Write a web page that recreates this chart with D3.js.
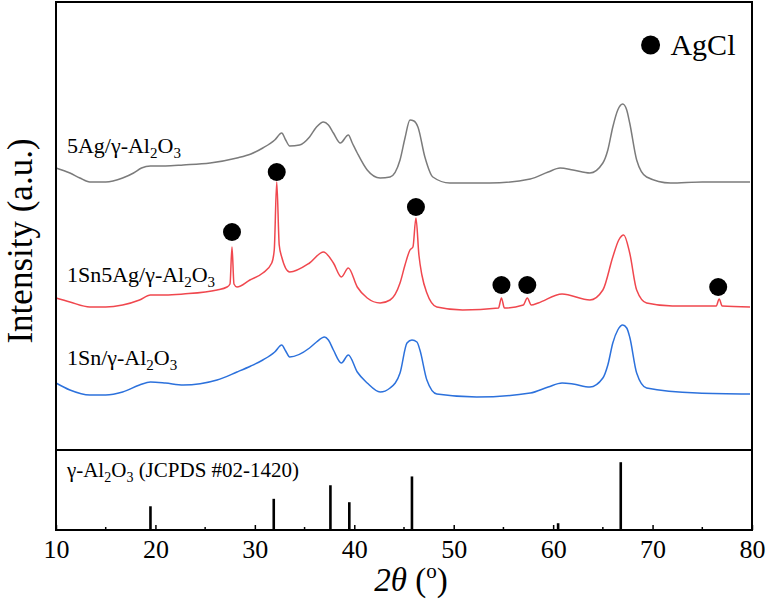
<!DOCTYPE html>
<html>
<head>
<meta charset="utf-8">
<script src="https://cdn.jsdelivr.net/npm/d3@7"></script>
<style>
    body { margin: 0; background: white; }
    text { font-family: "Liberation Serif", "Times New Roman", serif; fill: black; }
</style>
</head>
<body>
<div id="chart"></div>
<script>
// 2theta / intensity (a.u., stacked as drawn)
const ag_theta = [10.0, 11.4, 12.4, 13.4, 15.0, 16.7, 17.8, 18.6, 19.5, 21.0, 22.8, 25.5, 28.2, 29.6, 30.8, 32.0, 32.7, 33.1, 33.5, 34.5, 35.5, 36.2, 36.9, 37.4, 37.9, 38.6, 39.4, 39.8, 40.3, 41.3, 42.6, 43.6, 44.6, 45.1, 45.6, 46.0, 46.4, 47.1, 47.9, 49.6, 53.6, 57.7, 59.5, 60.7, 62.0, 63.7, 65.0, 65.5, 66.0, 66.5, 67.0, 67.4, 67.7, 68.4, 69.4, 71.8, 75.0, 79.8];
const ag_int = [282, 277, 272, 268, 268, 272, 277, 282, 284, 284, 285, 287, 292, 296, 302, 310, 317, 310, 304, 305, 313, 323, 328, 325, 317, 307, 315, 307, 297, 280, 272, 273, 290, 312, 330, 329, 323, 293, 273, 267, 267, 271, 278, 282, 280, 277, 287, 300, 323, 340, 346, 340, 327, 290, 273, 267, 268, 268];

const snag_theta = [10.0, 11.4, 13.4, 15.0, 16.7, 18.4, 19.5, 21.0, 22.8, 26.2, 27.2, 27.5, 27.7, 27.9, 28.2, 29.5, 30.8, 31.7, 31.95, 32.2, 32.45, 32.7, 33.5, 35.5, 36.9, 37.9, 38.7, 39.4, 40.3, 41.3, 42.6, 43.6, 44.6, 45.1, 45.6, 45.9, 46.2, 46.5, 46.8, 47.3, 48.3, 50.9, 54.5, 54.8, 55.1, 57.0, 57.4, 57.8, 58.5, 60.9, 63.7, 65.0, 66.0, 66.6, 67.1, 67.7, 68.4, 69.4, 72.0, 74.5, 76.4, 76.7, 77.0, 79.8];
const snag_int = [152, 148, 143, 143, 145, 150, 155, 155, 156, 160, 163, 166, 203, 166, 163, 170, 177, 187, 200, 268, 205, 193, 178, 187, 198, 187, 173, 182, 163, 152, 147, 150, 167, 185, 200, 203, 232, 195, 175, 157, 143, 140, 142, 152, 142, 145, 152, 145, 147, 156, 150, 160, 193, 210, 215, 197, 160, 147, 144, 144, 144, 151, 144, 143];

const sn_theta = [10.0, 11.4, 13.4, 15.0, 16.7, 18.4, 19.5, 21.0, 22.8, 26.2, 28.2, 29.6, 30.8, 32.0, 32.7, 33.1, 33.5, 35.5, 36.2, 37.0, 37.4, 37.9, 38.7, 39.4, 40.3, 41.3, 42.6, 43.6, 44.6, 45.3, 45.8, 46.3, 46.6, 47.3, 48.3, 52.3, 57.7, 59.5, 60.9, 62.0, 63.7, 65.0, 65.5, 66.0, 66.5, 67.0, 67.4, 67.7, 68.4, 69.4, 74.5, 79.8];
const sn_int = [67, 60, 55, 55, 58, 65, 68, 67, 65, 70, 78, 84, 90, 98, 105, 99, 93, 102, 108, 113, 110, 100, 87, 95, 78, 67, 58, 62, 77, 107, 110, 108, 100, 70, 56, 53, 57, 63, 67, 66, 63, 72, 85, 107, 120, 125, 122, 113, 77, 62, 57, 56];

const series_names = ["5Ag/γ-Al", "1Sn5Ag/γ-Al", "1Sn/γ-Al"];
const series_colors = ["#7b7b7b", "#f0474e", "#2c71dc"];

// AgCl reflections (marker position above the red curve)
const agcl_theta = [27.7, 32.2, 46.2, 54.8, 57.4, 76.6];
const agcl_int = [218, 278, 243, 165, 165, 163];

// gamma-Al2O3 reference, JCPDS #02-1420
const ref_theta = [19.5, 31.9, 37.6, 39.5, 45.8, 60.5, 66.8];
const ref_int = [35, 46, 66, 41, 79, 10, 100];

const x_ticks = [10, 20, 30, 40, 50, 60, 70, 80];

const W = 767, H = 599;
const m_left = 56, m_right = 752, m_top = 2, m_mid = 450, m_bottom = 530;

let svg = d3.select("#chart").append("svg")
    .attr("width", W)
    .attr("height", H)
    ;

let x = d3.scaleLinear().domain([10, 80]).range([m_left, m_right]);
let y = d3.scaleLinear().domain([0, 448]).range([m_mid, m_top]);
let y_ref = d3.scaleLinear().domain([0, 118]).range([m_bottom, m_mid]);

let line = d3.line()
    .x(d => x(d[0]))
    .y(d => y(d[1]))
    .curve(d3.curveMonotoneX)
    ;

let all_series = [
    d3.zip(ag_theta, ag_int),
    d3.zip(snag_theta, snag_int),
    d3.zip(sn_theta, sn_int)
];

svg.append("g").selectAll("path")
    .data(all_series)
    .join("path")
    .attr("d", line)
    .attr("fill", "none")
    .attr("stroke", (d, i) => series_colors[i])
    .attr("stroke-width", 1.5)
    .attr("stroke-linejoin", "round")
    ;

// sample names
let label_y = [ag_int[3] + 29, snag_int[2] + 25, sn_int[2] + 30];
let labels = svg.append("g").selectAll("text")
    .data(series_names)
    .join("text")
    .attr("x", x(11.1))
    .attr("y", (d, i) => y(label_y[i]))
    .style("font-size", "22px")
    ;
labels.append("tspan").text(d => d);
labels.append("tspan").text("2").attr("dy", 5).style("font-size", "15px");
labels.append("tspan").text("O").attr("dy", -5);
labels.append("tspan").text("3").attr("dy", 5).style("font-size", "15px");

// AgCl markers
svg.append("g").selectAll("circle")
    .data(d3.zip(agcl_theta, agcl_int))
    .join("circle")
    .attr("cx", d => x(d[0]))
    .attr("cy", d => y(d[1]))
    .attr("r", 9)
    .attr("fill", "black")
    ;

// legend
svg.append("circle")
    .attr("cx", x(69.8))
    .attr("cy", 45)
    .attr("r", 9.5)
    .attr("fill", "black")
    ;
svg.append("text")
    .text("AgCl")
    .attr("x", x(71.8))
    .attr("y", 55)
    .style("font-size", "30px")
    ;

// reference sticks
svg.append("g").selectAll("line")
    .data(d3.zip(ref_theta, ref_int))
    .join("line")
    .attr("x1", d => x(d[0]))
    .attr("x2", d => x(d[0]))
    .attr("y1", y_ref(0))
    .attr("y2", d => y_ref(d[1]))
    .attr("stroke", "black")
    .attr("stroke-width", 2.6)
    ;

let ref_label = svg.append("text")
    .attr("x", x(11.1))
    .attr("y", 477)
    .style("font-size", "21px")
    ;
ref_label.append("tspan").text("γ-Al");
ref_label.append("tspan").text("2").attr("dy", 5).style("font-size", "14px");
ref_label.append("tspan").text("O").attr("dy", -5);
ref_label.append("tspan").text("3").attr("dy", 5).style("font-size", "14px");
ref_label.append("tspan").text(" (JCPDS #02-1420)").attr("dy", -5);

// x axis, ticks pointing inward
let x_axis = d3.axisBottom(x)
    .tickValues(x_ticks)
    .tickSizeInner(-5)
    .tickSizeOuter(0)
    .tickPadding(10)
    ;
let gx = svg.append("g")
    .attr("transform", "translate(0," + m_bottom + ")")
    .call(x_axis)
    ;
gx.select(".domain").remove();
gx.selectAll("line").attr("stroke", "black").attr("stroke-width", 1.5);
gx.selectAll("text")
    .style("font-family", "Liberation Serif")
    .style("font-size", "26px")
    .attr("dy", "0.71em")
    ;

svg.append("g").selectAll("line")
    .data(d3.range(15, 80, 10))
    .join("line")
    .attr("x1", d => x(d))
    .attr("x2", d => x(d))
    .attr("y1", m_bottom)
    .attr("y2", m_bottom - 3)
    .attr("stroke", "black")
    .attr("stroke-width", 1.5)
    ;

// frame + divider
svg.append("rect")
    .attr("x", m_left)
    .attr("y", m_top)
    .attr("width", m_right - m_left)
    .attr("height", m_bottom - m_top)
    .attr("fill", "none")
    .attr("stroke", "black")
    .attr("stroke-width", 2)
    ;
svg.append("line")
    .attr("x1", m_left)
    .attr("x2", m_right)
    .attr("y1", m_mid)
    .attr("y2", m_mid)
    .attr("stroke", "black")
    .attr("stroke-width", 2)
    ;

// axis titles
let xt = svg.append("text")
    .attr("x", 411)
    .attr("y", 591)
    .attr("text-anchor", "middle")
    .style("font-size", "33px")
    ;
xt.append("tspan").text("2").style("font-style", "italic");
xt.append("tspan").text("θ").style("font-style", "italic");
xt.append("tspan").text(" (");
xt.append("tspan").text("o").attr("dy", -13).style("font-size", "21px");
xt.append("tspan").text(")").attr("dy", 13);

svg.append("text")
    .text("Intensity (a.u.)")
    .attr("transform", "translate(32,241) rotate(-90)")
    .attr("text-anchor", "middle")
    .style("font-size", "35px")
    ;
</script>
</body>
</html>
